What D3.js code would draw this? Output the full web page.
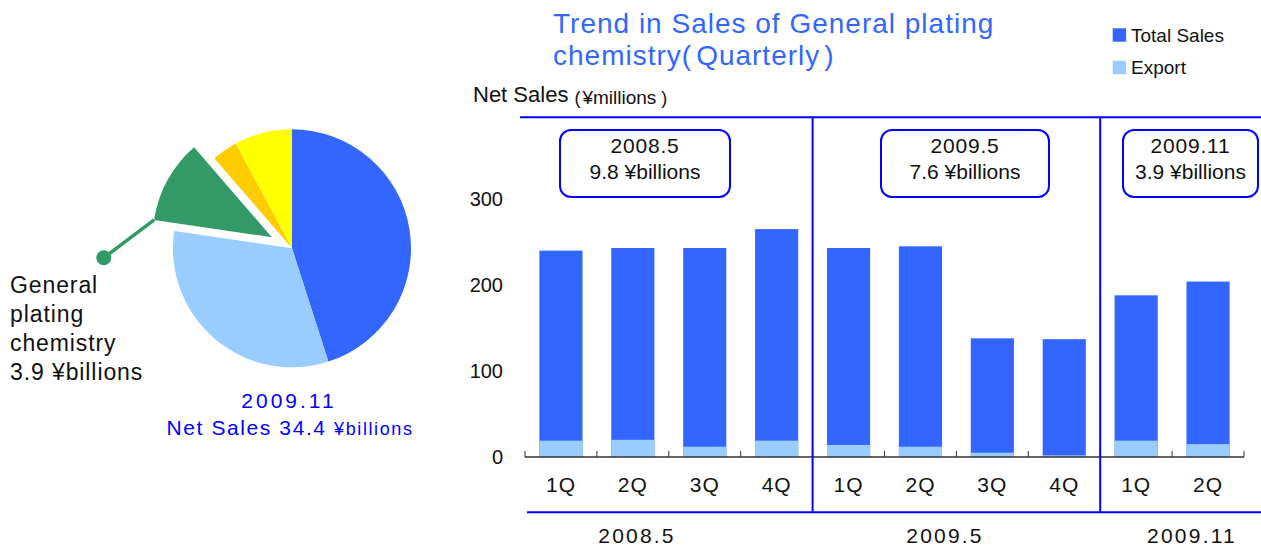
<!DOCTYPE html>
<html><head><meta charset="utf-8">
<script src="https://cdn.jsdelivr.net/npm/d3@7"></script>
<style>
body{margin:0;background:#fff}
svg{display:block}
text{font-family:"Liberation Sans",Arial,"Noto Sans CJK JP",sans-serif}
</style>
</head><body>
<svg id="c" width="1261" height="549"></svg>
<script>
// ---------- data ----------
const quarters = ["1Q","2Q","3Q","4Q","1Q","2Q","3Q","4Q","1Q","2Q"];
const fiscalYears = ["2008.5","2008.5","2008.5","2008.5","2009.5","2009.5","2009.5","2009.5","2009.11","2009.11"];
const totalSales = [240,243,243,265,243,245,138,137,188,204];
const exportSales = [19,20,12,19,14,12,5,2,19,15];
const yTicks = [0,100,200,300];
const periodNames = ["2008.5","2009.5","2009.11"];
const periodTotals = ["9.8","7.6","3.9"];
const pieSegments = ["Segment A","Segment B","General plating chemistry","Segment C","Segment D"];
const pieValues = [15.5,11.1,3.9,1.2,2.7];
const pieDate = "2009.11";

// ---------- styles / layout ----------
const BLUE = "#3366FF", LIGHT = "#99CCFF", LINE = "#0000FF";
const pieColors = ["#3366FF","#99CCFF","#339966","#FFCC00","#FFFF00"];
const boxLayout = [{cx:645,w:170},{cx:965,w:168},{cx:1190.5,w:135}];
const yearLabelX = [637,945,1192];

const svg = d3.select("#c");

// ---------- bar chart ----------
const x = d3.scaleBand().domain(d3.range(quarters.length)).range([525,1244]).paddingInner(0.4).paddingOuter(0.2);
const y = d3.scaleLinear().domain([0,300]).range([457,199]);
const edge = i => x.range()[0] + i*x.step();

svg.append("g").selectAll("rect").data(totalSales).join("rect")
  .attr("x",(d,i)=>x(i)).attr("y",d=>y(d)).attr("width",x.bandwidth()).attr("height",d=>y(0)-y(d)).attr("fill",BLUE);
svg.append("g").selectAll("rect").data(exportSales).join("rect")
  .attr("x",(d,i)=>x(i)).attr("y",d=>y(d)).attr("width",x.bandwidth()).attr("height",d=>y(0)-y(d)).attr("fill",LIGHT);

// x baseline and upward ticks at band edges
svg.append("line").attr("x1",edge(0)).attr("x2",edge(quarters.length)).attr("y1",y(0)).attr("y2",y(0))
  .attr("stroke","#333").attr("stroke-width",1.5);
svg.append("g").selectAll("line").data(d3.range(quarters.length+1)).join("line")
  .attr("x1",d=>edge(d)).attr("x2",d=>edge(d)).attr("y1",y(0)).attr("y2",y(0)-6).attr("stroke","#333").attr("stroke-width",1);

// quarter labels via axis
const xa = svg.append("g").attr("transform",`translate(0,${y(0)})`)
  .call(d3.axisBottom(x).tickFormat(i=>quarters[i]).tickSize(0).tickPadding(20));
xa.select(".domain").remove();
xa.selectAll("text").attr("font-size",21).attr("letter-spacing",1).attr("fill","#111").style("font-family",'"Liberation Sans",Arial,sans-serif');

// y labels
const ya = svg.append("g").attr("transform","translate(503,0)")
  .call(d3.axisLeft(y).tickValues(yTicks).tickSize(0).tickPadding(0));
ya.select(".domain").remove();
ya.selectAll("text").attr("font-size",20).attr("fill","#111").style("font-family",'"Liberation Sans",Arial,sans-serif');

// frame lines
svg.append("line").attr("x1",520).attr("x2",1261).attr("y1",117.3).attr("y2",117.3).attr("stroke",LINE).attr("stroke-width",2);
svg.append("line").attr("x1",527).attr("x2",1261).attr("y1",512.3).attr("y2",512.3).attr("stroke",LINE).attr("stroke-width",2);
const sepIdx = d3.range(1,fiscalYears.length).filter(i=>fiscalYears[i]!==fiscalYears[i-1]);
svg.append("g").selectAll("line").data(sepIdx).join("line")
  .attr("x1",d=>edge(d)).attr("x2",d=>edge(d)).attr("y1",117.3).attr("y2",512.3).attr("stroke",LINE).attr("stroke-width",2);

// period boxes
const boxes = svg.append("g").selectAll("g").data(periodNames).join("g");
boxes.append("rect").attr("x",(d,i)=>boxLayout[i].cx-boxLayout[i].w/2).attr("y",130).attr("width",(d,i)=>boxLayout[i].w)
  .attr("height",67).attr("rx",11).attr("fill","#fff").attr("stroke",LINE).attr("stroke-width",2);
boxes.append("text").attr("x",(d,i)=>boxLayout[i].cx).attr("y",153.3).attr("text-anchor","middle")
  .attr("font-size",21).attr("letter-spacing",0.8).attr("fill","#111").text(d=>d);
boxes.append("text").attr("x",(d,i)=>boxLayout[i].cx).attr("y",179.3).attr("text-anchor","middle")
  .attr("font-size",21).attr("fill","#111").text((d,i)=>periodTotals[i]+" ¥billions");

// year labels under chart
svg.append("g").selectAll("text").data(periodNames).join("text")
  .attr("x",(d,i)=>yearLabelX[i]).attr("y",543.3).attr("text-anchor","middle")
  .attr("font-size",21).attr("letter-spacing",2.2).attr("fill","#111").text(d=>d);

// title
const title = svg.append("text").attr("x",553).attr("font-size",28).attr("letter-spacing",1).attr("fill",BLUE);
title.append("tspan").attr("x",553).attr("y",32.7).text("Trend in Sales of General plating");
const t2 = title.append("tspan").attr("x",553).attr("y",65.3);
t2.append("tspan").text("chemistry(");
t2.append("tspan").attr("dx",4).text("Quarterly");
t2.append("tspan").attr("dx",4).text(")");

// y unit label
const yl = svg.append("text").attr("fill","#111");
yl.append("tspan").attr("x",473).attr("y",101.7).attr("font-size",22).text("Net Sales");
yl.append("tspan").attr("dx",6).attr("y",104.3).attr("font-size",18).text("(");
yl.append("tspan").attr("dx",2).attr("font-size",19).text("¥millions");
yl.append("tspan").attr("dx",5).attr("font-size",18).text(")");

// legend
const legendItems = [["Total Sales",BLUE],["Export",LIGHT]];
const lg = svg.append("g").selectAll("g").data(legendItems).join("g")
  .attr("transform",(d,i)=>`translate(1112.7,${28.3+i*32.5})`);
lg.append("rect").attr("width",13.4).attr("height",13.4).attr("fill",d=>d[1]);
lg.append("text").attr("x",18.3).attr("y",13.4).attr("font-size",19).attr("fill","#111").text(d=>d[0]);

// ---------- pie ----------
const cx = 292, cy = 248.3, R = 119, explode = 23;
const pie = d3.pie().sort(null).value(d=>d)(pieValues);
const arc = d3.arc().innerRadius(0).outerRadius(R);
const hl = pieSegments.indexOf("General plating chemistry");
const off = d => {
  if (d.index!==hl) return [0,0];
  const m = (d.startAngle+d.endAngle)/2;
  return [Math.sin(m)*explode, -Math.cos(m)*explode];
};
const pg = svg.append("g").attr("transform",`translate(${cx},${cy})`);
pg.selectAll("path").data(pie).join("path")
  .attr("d",arc).attr("fill",(d,i)=>pieColors[i])
  .attr("transform",d=>`translate(${off(d)})`);

// leader line
const hd = pie[hl], o = off(hd);
const sx = o[0]+Math.sin(hd.startAngle)*R, sy = o[1]-Math.cos(hd.startAngle)*R;
const la = 233*Math.PI/180, ll = 63;
const ex = sx+Math.sin(la)*ll, ey = sy-Math.cos(la)*ll;
pg.append("line").attr("x1",sx).attr("y1",sy).attr("x2",ex).attr("y2",ey).attr("stroke",pieColors[hl]).attr("stroke-width",3.5);
pg.append("circle").attr("cx",ex).attr("cy",ey).attr("r",7.5).attr("fill",pieColors[hl]);

// highlighted segment label
const lbl = ["General","plating","chemistry",d3.format(".1f")(pieValues[hl])+" ¥billions"];
svg.append("g").selectAll("text").data(lbl).join("text")
  .attr("x",10).attr("y",(d,i)=>293.3+i*29).attr("font-size",23).attr("letter-spacing",0.9).attr("fill","#111").text(d=>d);

// pie caption
svg.append("text").attr("x",289).attr("y",408.3).attr("text-anchor","middle").attr("font-size",21)
  .attr("letter-spacing",3).attr("fill",LINE).text(pieDate);
const cap = svg.append("text").attr("x",290).attr("y",435).attr("text-anchor","middle").attr("fill",LINE).attr("letter-spacing",1.6);
cap.append("tspan").attr("font-size",21).text("Net Sales "+d3.format(".1f")(d3.sum(pieValues))+" ");
cap.append("tspan").attr("font-size",18).text("¥billions");
</script>
</body></html>
